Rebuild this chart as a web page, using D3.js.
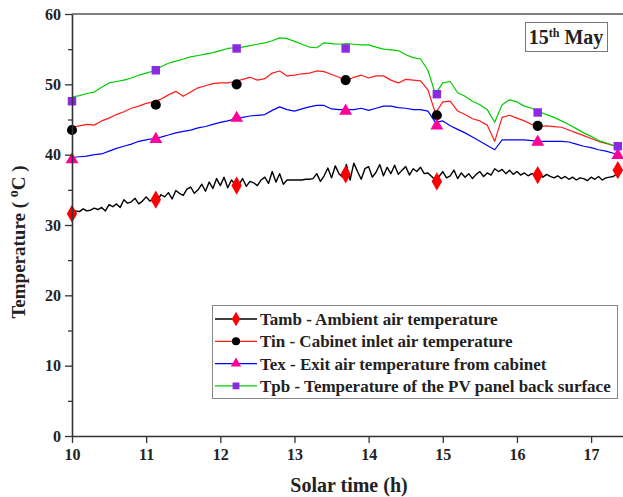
<!DOCTYPE html>
<html>
<head>
<meta charset="utf-8">
<script src="https://cdn.jsdelivr.net/npm/d3@7"></script>
<style>
  body { margin: 0; background: #fff; }
  text { font-family: "Liberation Serif", "Times New Roman", serif; font-weight: bold; fill: #222; }
</style>
</head>
<body>
<div id="chart"></div>
<script>
// hours for the logged step-like series (every 0.1 h)
const hours = [10.0,10.1,10.2,10.3,10.4,10.5,10.6,10.7,10.8,10.9,11.0,11.1,11.2,11.3,11.4,11.5,11.6,11.7,11.8,11.9,
  12.0,12.1,12.2,12.3,12.4,12.5,12.6,12.7,12.8,12.9,13.0,13.1,13.2,13.3,13.4,13.5,13.6,13.7,13.8,13.9,
  14.0,14.1,14.2,14.3,14.4,14.5,14.6,14.7,14.8,14.9,15.0,15.1,15.2,15.3,15.4,15.5,15.6,15.7,15.8,15.9,
  16.0,16.1,16.2,16.3,16.4,16.5,16.6,16.7,16.8,16.9,17.0,17.1,17.2,17.3,17.4];

const tpb = [48.2,48.4,48.7,48.9,49.6,50.2,50.4,50.6,50.9,51.3,51.6,51.9,52.5,53.0,53.3,53.6,53.9,54.1,54.3,54.5,
  54.8,55.1,55.2,55.3,55.5,55.7,55.9,56.2,56.6,56.5,56.1,55.7,55.3,55.2,55.9,55.8,55.7,55.8,55.7,55.6,
  55.6,55.3,55.0,54.9,54.8,54.2,53.8,53.6,52.0,48.6,50.2,50.4,48.8,48.3,47.6,47.1,46.4,44.6,47.1,47.8,
  47.5,46.9,46.6,46.1,45.7,45.3,44.8,44.3,43.7,43.1,42.6,42.0,41.7,41.3,40.9];

const tin = [43.9,44.1,44.3,44.2,44.8,45.2,45.7,46.1,46.6,46.9,47.3,47.5,47.9,48.5,49.0,48.3,48.9,49.5,49.8,50.1,
  50.2,50.2,50.4,50.7,51.0,50.6,50.8,51.6,51.9,51.2,51.3,51.5,51.6,51.9,51.8,51.4,51.0,50.5,51.0,51.3,
  50.9,51.2,51.2,50.6,50.2,50.7,50.6,50.5,49.2,45.9,47.5,47.6,46.2,45.7,45.1,44.8,44.2,41.9,45.3,45.6,
  45.2,44.8,44.3,44.0,44.1,44.0,43.9,43.5,43.1,42.7,42.3,41.9,41.6,41.3,41.0];

const tex = [39.6,39.7,39.8,40.0,40.1,40.5,40.9,41.2,41.5,41.9,42.1,42.3,42.5,42.8,43.1,43.3,43.5,43.8,44.0,44.3,
  44.6,44.8,45.1,45.3,45.5,45.6,45.7,46.3,46.8,46.4,46.2,46.5,46.8,47.0,47.0,46.5,46.4,46.4,46.4,46.6,
  46.3,46.6,46.9,46.9,46.7,46.6,46.4,46.4,46.2,44.6,44.8,44.1,43.6,43.1,42.5,41.9,41.3,40.7,42.1,42.1,
  42.1,42.1,42.0,41.9,41.9,41.9,41.9,41.8,41.5,41.2,41.0,40.7,40.5,40.2,39.9];

// ambient temperature is noisier, read every 0.05 h
const hoursFine = [10.00,10.05,10.10,10.15,10.20,10.25,10.30,10.35,10.40,10.45,10.50,10.55,10.60,10.65,10.70,10.75,10.80,10.85,10.90,10.95,
  11.00,11.05,11.10,11.15,11.20,11.25,11.30,11.35,11.40,11.45,11.50,11.55,11.60,11.65,11.70,11.75,11.80,11.85,11.90,11.95,
  12.00,12.05,12.10,12.15,12.20,12.25,12.30,12.35,12.40,12.45,12.50,12.55,12.60,12.65,12.70,12.75,12.80,12.85,12.90,12.95,
  13.00,13.05,13.10,13.15,13.20,13.25,13.30,13.35,13.40,13.45,13.50,13.55,13.60,13.65,13.70,13.75,13.80,13.85,13.90,13.95,
  14.00,14.05,14.10,14.15,14.20,14.25,14.30,14.35,14.40,14.45,14.50,14.55,14.60,14.65,14.70,14.75,14.80,14.85,14.90,14.95,
  15.00,15.05,15.10,15.15,15.20,15.25,15.30,15.35,15.40,15.45,15.50,15.55,15.60,15.65,15.70,15.75,15.80,15.85,15.90,15.95,
  16.00,16.05,16.10,16.15,16.20,16.25,16.30,16.35,16.40,16.45,16.50,16.55,16.60,16.65,16.70,16.75,16.80,16.85,16.90,16.95,
  17.00,17.05,17.10,17.15,17.20,17.25,17.30,17.35,17.40];

const tamb = [31.8,32.0,31.9,32.3,32.0,32.1,32.4,32.2,32.5,32.0,32.9,32.6,33.0,32.5,33.6,33.1,33.3,33.8,33.0,33.4,
  34.0,33.4,33.6,33.5,34.3,34.0,34.6,33.7,34.9,34.5,34.2,35.1,35.4,34.5,35.0,35.8,34.8,36.1,35.2,36.6,
  35.6,36.8,35.3,36.4,35.8,35.7,36.6,35.5,36.2,36.0,35.6,36.4,36.8,35.9,37.6,36.1,37.3,35.8,36.4,36.4,
  36.4,36.4,36.4,36.5,36.5,36.6,37.3,36.2,37.0,38.1,36.7,38.4,37.3,36.8,38.6,36.4,38.8,37.6,36.5,38.0,
  38.3,36.8,37.5,38.6,37.0,38.2,37.3,38.5,37.2,37.8,38.3,37.1,38.0,37.6,38.2,37.3,37.4,36.9,36.4,36.9,
  37.6,36.7,37.0,37.8,36.6,37.4,36.8,37.3,36.6,37.2,37.6,36.9,37.4,37.1,38.0,37.6,37.9,37.3,37.8,37.2,
  37.6,37.1,37.4,37.0,37.3,37.1,37.2,36.8,37.2,36.9,36.7,37.0,36.6,36.9,36.5,36.8,36.4,36.7,36.6,36.3,
  36.8,36.5,36.9,36.4,36.7,36.8,36.9,37.3,37.5];

// symbol positions
const markerHours = [10.0, 11.13, 12.22, 13.69, 14.92, 16.28, 17.36];
const tambMarks = [31.6, 33.6, 35.6, 37.2, 36.2, 37.1, 37.8];
const tinMarks  = [43.5, 47.1, 50.0, 50.6, 45.6, 44.1, null];
const texMarks  = [39.3, 42.2, 45.2, 46.2, 44.1, 41.8, 39.9];
const tpbMarks  = [47.6, 52.0, 55.1, 55.1, 48.6, 46.0, 41.2];

const seriesNames = [
  "Tamb - Ambient air temperature",
  "Tin - Cabinet inlet air temperature",
  "Tex - Exit air temperature from cabinet",
  "Tpb - Temperature of the PV panel back surface"
];
const xTicks = [10, 11, 12, 13, 14, 15, 16, 17];
const yTicks = [0, 10, 20, 30, 40, 50, 60];
const yMinor = [5, 15, 25, 35, 45, 55];

const series = [
  { name: seriesNames[0], xs: hoursFine, ys: tamb, marks: tambMarks, line: "#000000", fill: "#ff0000", sym: d3.symbolDiamond, size: 95 },
  { name: seriesNames[1], xs: hours, ys: tin, marks: tinMarks, line: "#ff1a1a", fill: "#000000", sym: d3.symbolCircle, size: 80 },
  { name: seriesNames[2], xs: hours, ys: tex, marks: texMarks, line: "#0000ff", fill: "#ff0099", sym: d3.symbolTriangle, size: 72 },
  { name: seriesNames[3], xs: hours, ys: tpb, marks: tpbMarks, line: "#00cc00", fill: "#8a2be2", sym: d3.symbolSquare, size: 72 }
];

const W = 623, H = 497;
const margin = { top: 14, left: 72, bottom: 61, right: 0 };

const svg = d3.select("#chart").append("svg")
  .attr("width", W)
  .attr("height", H);

const x = d3.scaleLinear().domain([10, 17.43]).range([margin.left, W - margin.right]);
const y = d3.scaleLinear().domain([0, 60]).range([H - margin.bottom, margin.top]);

// lines
const line = d3.line()
  .x(d => x(d[0]))
  .y(d => y(d[1]));

series.forEach(function(s) {
  svg.append("path")
    .datum(s.xs.map((t, i) => [t, s.ys[i]]))
    .attr("fill", "none")
    .attr("stroke", s.line)
    .attr("stroke-width", s.xs === hoursFine ? 1.4 : 1.2)
    .attr("stroke-linejoin", "round")
    .attr("d", line);
});

// symbols
series.forEach(function(s) {
  svg.append("g").selectAll("path")
    .data(markerHours.map((t, i) => [t, s.marks[i]]).filter(d => d[1] != null))
    .join("path")
    .attr("transform", d => "translate(" + x(d[0]) + "," + y(d[1]) + ")")
    .attr("d", d3.symbol().type(s.sym).size(s.size))
    .attr("fill", s.fill);
});

// axes
const axisColor = "#333";
svg.append("g")
  .attr("transform", "translate(0," + y(0) + ")")
  .call(d3.axisBottom(x).tickValues(xTicks).tickSize(7).tickSizeOuter(0).tickPadding(6));
svg.append("g")
  .attr("transform", "translate(" + x(10) + ",0)")
  .call(d3.axisLeft(y).tickValues(yTicks).tickSize(7).tickSizeOuter(0).tickPadding(4));
svg.append("g")
  .attr("transform", "translate(" + x(10) + ",0)")
  .call(d3.axisLeft(y).tickValues(yMinor).tickSize(4).tickFormat(""))
  .select(".domain").remove();

svg.selectAll(".tick line").attr("stroke", axisColor).attr("stroke-width", 1.3);
svg.selectAll(".domain").attr("stroke", axisColor).attr("stroke-width", 1.6);
svg.selectAll(".tick text")
  .style("font-family", "'Liberation Serif', 'Times New Roman', serif")
  .style("font-weight", "bold")
  .style("font-size", "16px")
  .attr("fill", "#222");

// top frame
svg.append("line")
  .attr("x1", x(10)).attr("x2", W)
  .attr("y1", y(60)).attr("y2", y(60))
  .attr("stroke", "#555").attr("stroke-width", 1.6);

// axis titles
svg.append("text")
  .attr("x", 349)
  .attr("y", 492)
  .attr("text-anchor", "middle")
  .style("font-size", "20px")
  .text("Solar time (h)");

const yTitle = svg.append("text")
  .attr("transform", "translate(25,242) rotate(-90)")
  .attr("text-anchor", "middle")
  .style("font-size", "19px");
yTitle.append("tspan").text("Temperature ( ");
yTitle.append("tspan").attr("dy", -7).style("font-size", "14px").text("o");
yTitle.append("tspan").attr("dy", 7).text("C )");

// date box
svg.append("rect")
  .attr("x", 525.5).attr("y", 22.5)
  .attr("width", 82).attr("height", 29)
  .attr("fill", "#fff").attr("stroke", "#777");
const date = svg.append("text")
  .attr("x", 566).attr("y", 44)
  .attr("text-anchor", "middle")
  .style("font-size", "20px");
date.append("tspan").text("15");
date.append("tspan").attr("dy", -7).style("font-size", "12px").text("th");
date.append("tspan").attr("dy", 7).text(" May");

// legend
const legend = svg.append("g");
legend.append("rect")
  .attr("x", 212.5).attr("y", 305.5)
  .attr("width", 405).attr("height", 93)
  .attr("fill", "#fff").attr("stroke", "#888");

series.forEach(function(s, i) {
  const ly = 319 + i * 22.3;
  legend.append("line")
    .attr("x1", 215).attr("x2", 257)
    .attr("y1", ly).attr("y2", ly)
    .attr("stroke", s.line).attr("stroke-width", 1.3);
  legend.append("path")
    .attr("transform", "translate(236," + ly + ")")
    .attr("d", d3.symbol().type(s.sym).size(s.size * 0.65))
    .attr("fill", s.fill);
  legend.append("text")
    .attr("x", 260).attr("y", ly + 6)
    .style("font-size", "17px")
    .text(s.name);
});
</script>
</body>
</html>
